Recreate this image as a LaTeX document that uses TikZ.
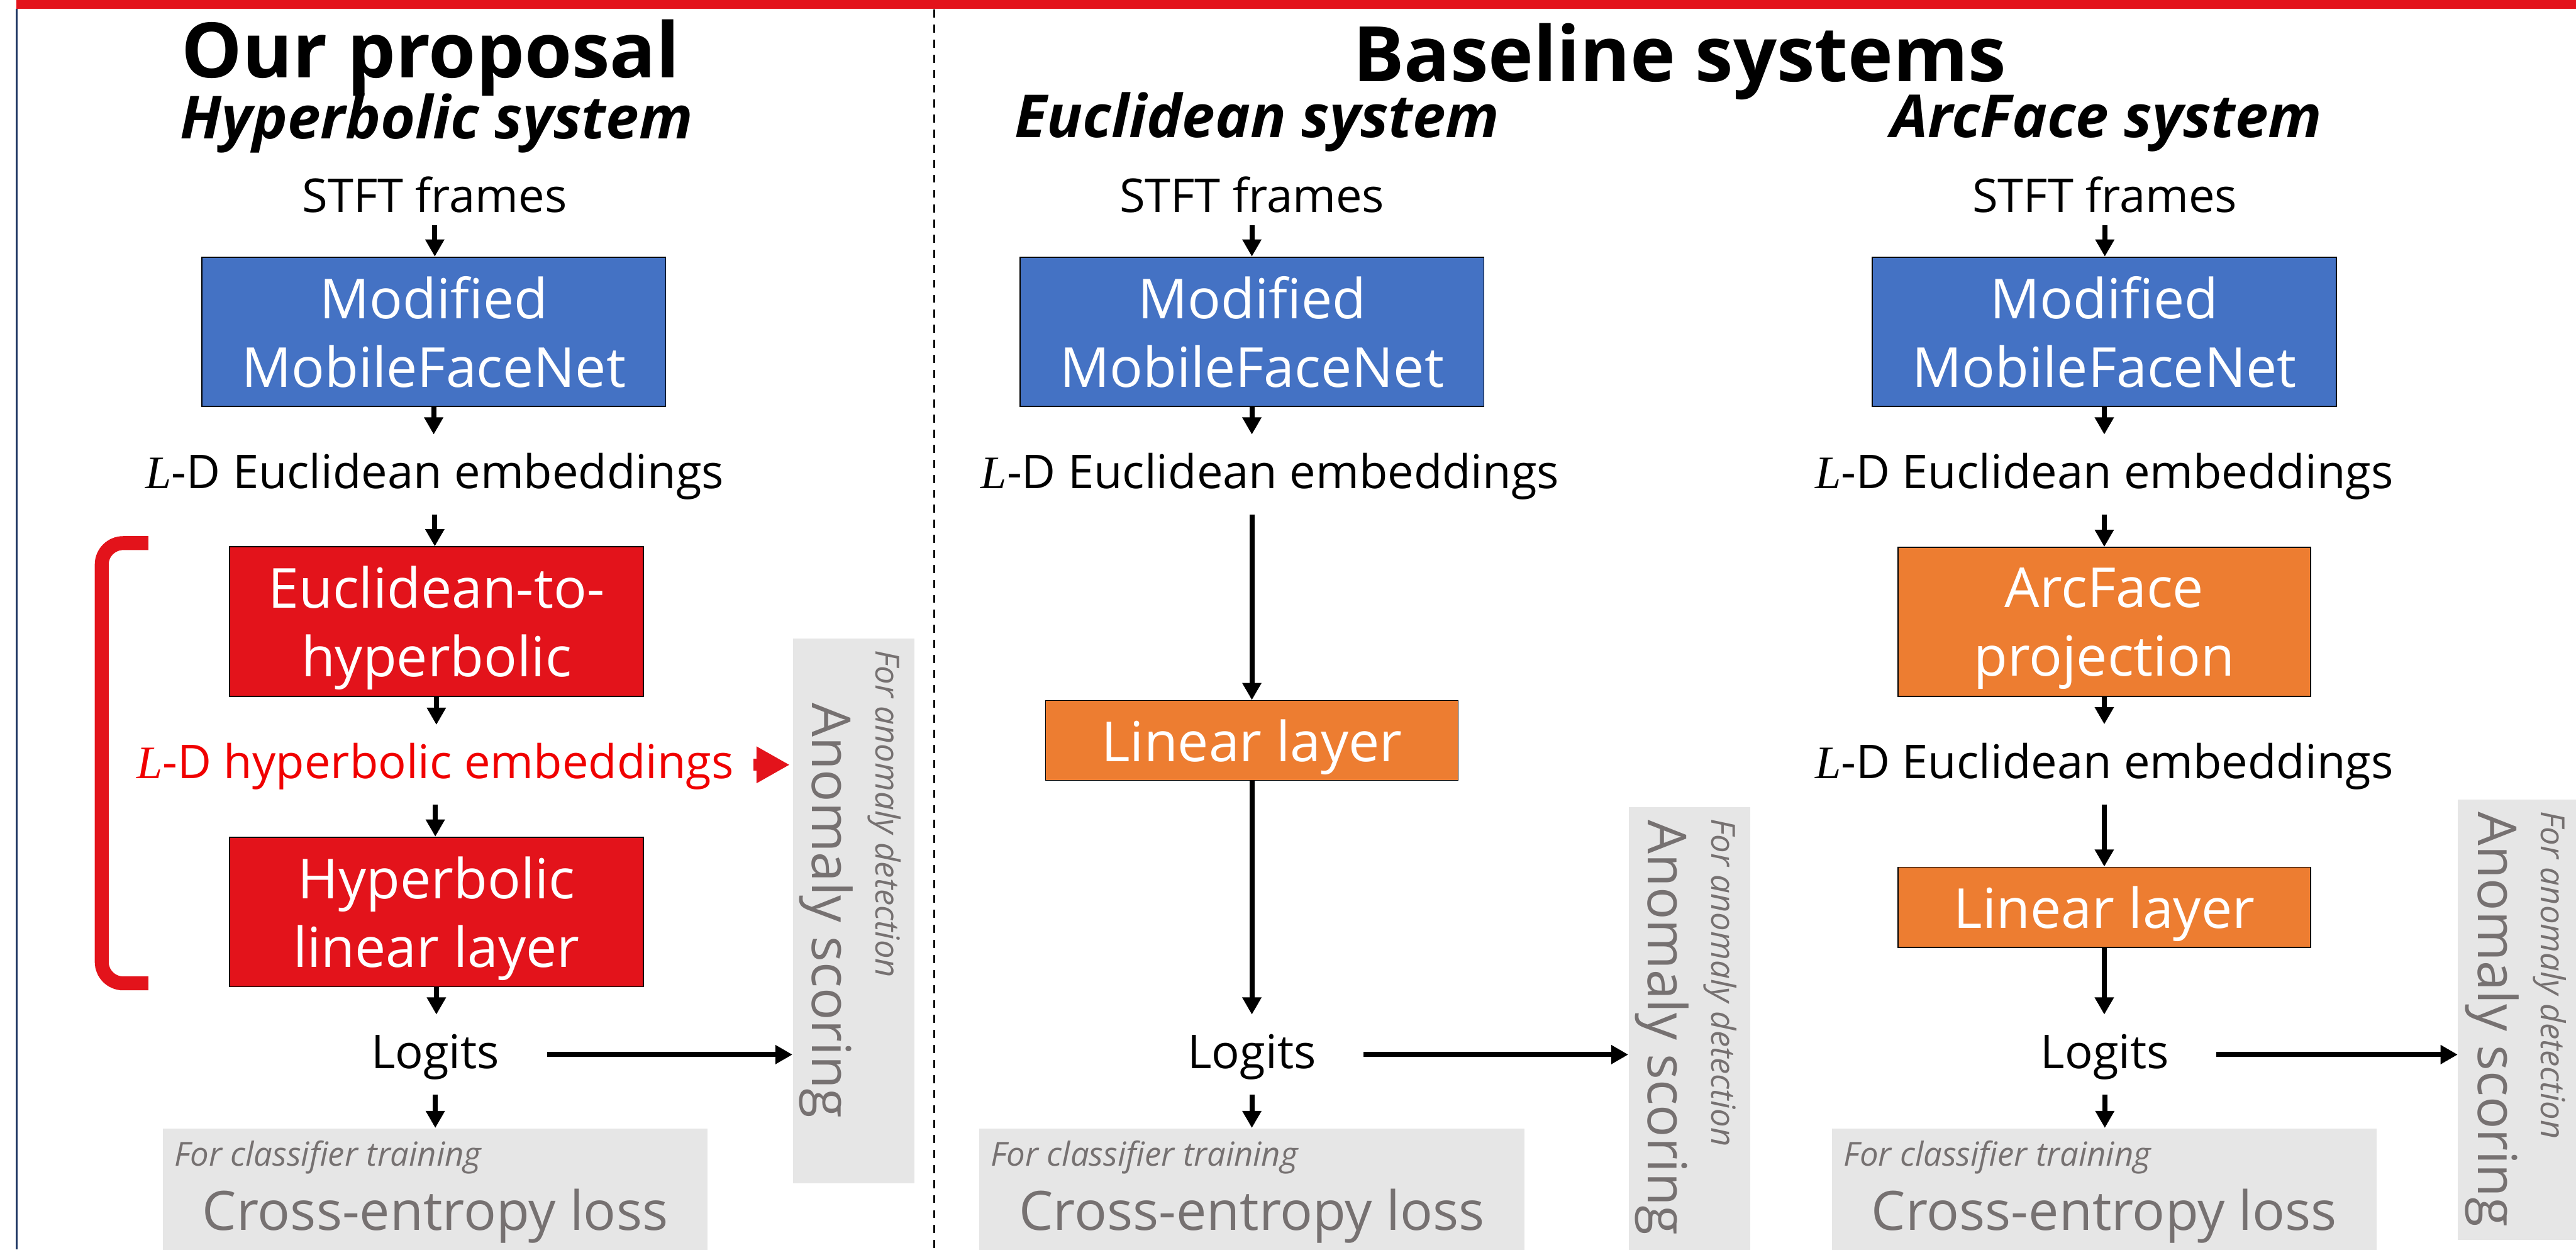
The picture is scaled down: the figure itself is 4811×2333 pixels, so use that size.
\documentclass[tikz,border=0pt]{standalone}
\usepackage{fontspec}
\setmainfont{Open Sans}
\newfontfamily\serifL{Liberation Serif}
\usetikzlibrary{arrows.meta}

\definecolor{boxblue}{RGB}{68,114,196}
\definecolor{boxred}{RGB}{227,19,27}
\definecolor{boxorange}{RGB}{237,125,49}
\definecolor{panelgray}{RGB}{230,230,230}
\definecolor{notegray}{RGB}{118,113,113}
\definecolor{labelred}{RGB}{240,0,0}
\definecolor{edgeblue}{RGB}{32,56,100}

% "L-D" with a serif italic L
\newcommand\LD{{\serifL\itshape L}-D}

\begin{document}
\begin{tikzpicture}[x=0.01cm,y=-0.01cm,
  every node/.style={inner sep=0pt},
  title/.style={anchor=base, font=\fontsize{40.6}{48}\selectfont\bfseries},
  subtitle/.style={anchor=base, font=\fontsize{31.5}{38}\selectfont\bfseries\itshape},
  lbl/.style={anchor=base, font=\fontsize{24.75}{30}\selectfont,
    text height=0.62cm, text depth=0.1cm, inner ysep=0.38cm},
  stft/.style={lbl, text depth=0pt, inner ysep=0.24cm},
  stage/.style={anchor=north, draw=black, line width=0.02cm, text=white,
    align=center, font=\fontsize{29.3}{36.4}\selectfont, text depth=0pt},
  bluebox/.style={stage, fill=boxblue, minimum width=8.66cm, minimum height=2.79cm},
  redbox/.style={stage, fill=boxred, minimum width=7.72cm, minimum height=2.79cm},
  orangebox/.style={stage, fill=boxorange, minimum width=7.70cm},
  lossbox/.style={anchor=north, fill=panelgray, minimum width=10.17cm, minimum height=2.27cm},
  scorebox/.style={anchor=north west, fill=panelgray, minimum width=2.27cm},
  noteit/.style={text=notegray, font=\fontsize{17.6}{21}\selectfont\itshape},
  losstxt/.style={anchor=base, text=notegray, font=\fontsize{28.8}{35}\selectfont},
  scoretxt/.style={anchor=base, rotate=-90, text=notegray, font=\fontsize{28.5}{34}\selectfont},
  flow/.style={-{Triangle[length=0.32cm,width=0.34cm]}, line width=0.095cm},
  redflow/.style={boxred, line width=0.22cm, -{Triangle[length=0.62cm,width=0.64cm]}}
]
\useasboundingbox (0,0) rectangle (4811,2333);

% frame decorations
\fill[boxred] (31,0) rectangle (4811,16);
\draw[edgeblue, line width=0.03cm] (31,16) -- (31,2333);
\draw[line width=0.03cm, dash pattern=on 0.15cm off 0.13cm] (1745,18) -- (1745,2333);

% headings
\node[title] (t1) at (804,145) {Our proposal};
\node[subtitle] (u1) at (815,259) {Hyperbolic system};
\node[title] (t2) at (3137,152) {Baseline systems};
\node[subtitle] (u2) at (2348,257) {Euclidean system};
\node[subtitle] (u3) at (3934,257) {ArcFace system};

% ---------- hyperbolic system ----------
\node[stft] (s1) at (812,396) {STFT frames};
\node[bluebox] (m1) at (810,479) {Modified\\MobileFaceNet};
\node[lbl] (e1) at (812,912) {\LD\ Euclidean embeddings};
\node[redbox] (h1) at (815,1020) {Euclidean-to-\\hyperbolic};
\node[lbl, text=labelred] (p1) at (813,1454) {\LD\ hyperbolic embeddings};
\node[redbox] (g1) at (815,1562) {Hyperbolic\\linear layer};
\node[lbl, inner xsep=0.88cm] (o1) at (813,1995) {Logits};
\node[lossbox] (c1) at (813,2106) {};
\node[noteit, anchor=base west] (c1n) at (325,2177) {For classifier training};
\node[losstxt] (c1t) at (813,2297) {Cross-entropy loss};
\node[scorebox, minimum height=10.17cm] (a1) at (1480,1191) {};
\node[noteit, rotate=-90, anchor=base west] (a1n) at (1636,1213) {For anomaly detection};
\node[scoretxt] (a1t) at (1517,1700) {Anomaly scoring};

\draw[flow] (s1.south) -- (s1.south |- m1.north);
\draw[flow] (m1.south) -- (m1.south |- e1.north);
\draw[flow] (e1.south) -- (e1.south |- h1.north);
\draw[flow] (h1.south) -- (h1.south |- p1.north);
\draw[flow] (p1.south) -- (p1.south |- g1.north);
\draw[flow] (g1.south) -- (g1.south |- o1.north);
\draw[flow] (o1.south) -- (o1.south |- c1.north);
\draw[flow] (o1.east) -- (o1.east -| a1.west);
\draw[redflow] ([xshift=-0.73cm]p1.east -| a1.west) -- ([xshift=-0.05cm]p1.east -| a1.west);

% bracket around the hyperbolic part
\draw[boxred, line width=0.26cm, rounded corners=0.4cm] (277,1014) -- (190,1014) -- (190,1836) -- (277,1836);

% ---------- Euclidean system ----------
\node[stft] (s2) at (2338,396) {STFT frames};
\node[bluebox] (m2) at (2338,479) {Modified\\MobileFaceNet};
\node[lbl] (e2) at (2372,912) {\LD\ Euclidean embeddings};
\node[orangebox, minimum height=1.49cm] (l2) at (2338,1307) {Linear layer};
\node[lbl, inner xsep=0.88cm] (o2) at (2338,1995) {Logits};
\node[lossbox] (c2) at (2338,2106) {};
\node[noteit, anchor=base west] (c2n) at (1850,2177) {For classifier training};
\node[losstxt] (c2t) at (2338,2297) {Cross-entropy loss};
\node[scorebox, minimum height=8.27cm] (a2) at (3041,1506) {};
\node[noteit, rotate=-90, anchor=base west] (a2n) at (3197,1528) {For anomaly detection};
\node[scoretxt] (a2t) at (3078,1919) {Anomaly scoring};

\draw[flow] (s2.south) -- (s2.south |- m2.north);
\draw[flow] (m2.south) -- (m2.south |- e2.north);
\draw[flow] (e2.south -| l2.north) -- (l2.north);
\draw[flow] (l2.south) -- (l2.south |- o2.north);
\draw[flow] (o2.south) -- (o2.south |- c2.north);
\draw[flow] (o2.east) -- (o2.east -| a2.west);

% ---------- ArcFace system ----------
\node[stft] (s3) at (3931,396) {STFT frames};
\node[bluebox] (m3) at (3930,479) {Modified\\MobileFaceNet};
\node[lbl] (e3) at (3930,912) {\LD\ Euclidean embeddings};
\node[orangebox, minimum height=2.78cm] (f3) at (3930,1021) {ArcFace\\projection};
\node[lbl] (k3) at (3930,1453) {\LD\ Euclidean embeddings};
\node[orangebox, minimum height=1.50cm] (l3) at (3930,1618) {Linear layer};
\node[lbl, inner xsep=0.88cm] (o3) at (3931,1995) {Logits};
\node[lossbox] (c3) at (3930,2106) {};
\node[noteit, anchor=base west] (c3n) at (3443,2177) {For classifier training};
\node[losstxt] (c3t) at (3930,2297) {Cross-entropy loss};
\node[scorebox, minimum height=8.22cm] (a3) at (4590,1492) {};
\node[noteit, rotate=-90, anchor=base west] (a3n) at (4746,1514) {For anomaly detection};
\node[scoretxt] (a3t) at (4628,1903) {Anomaly scoring};

\draw[flow] (s3.south) -- (s3.south |- m3.north);
\draw[flow] (m3.south) -- (m3.south |- e3.north);
\draw[flow] (e3.south) -- (e3.south |- f3.north);
\draw[flow] (f3.south) -- (f3.south |- k3.north);
\draw[flow] (k3.south) -- (k3.south |- l3.north);
\draw[flow] (l3.south) -- (l3.south |- o3.north);
\draw[flow] (o3.south) -- (o3.south |- c3.north);
\draw[flow] (o3.east) -- (o3.east -| a3.west);
\end{tikzpicture}
\end{document}
